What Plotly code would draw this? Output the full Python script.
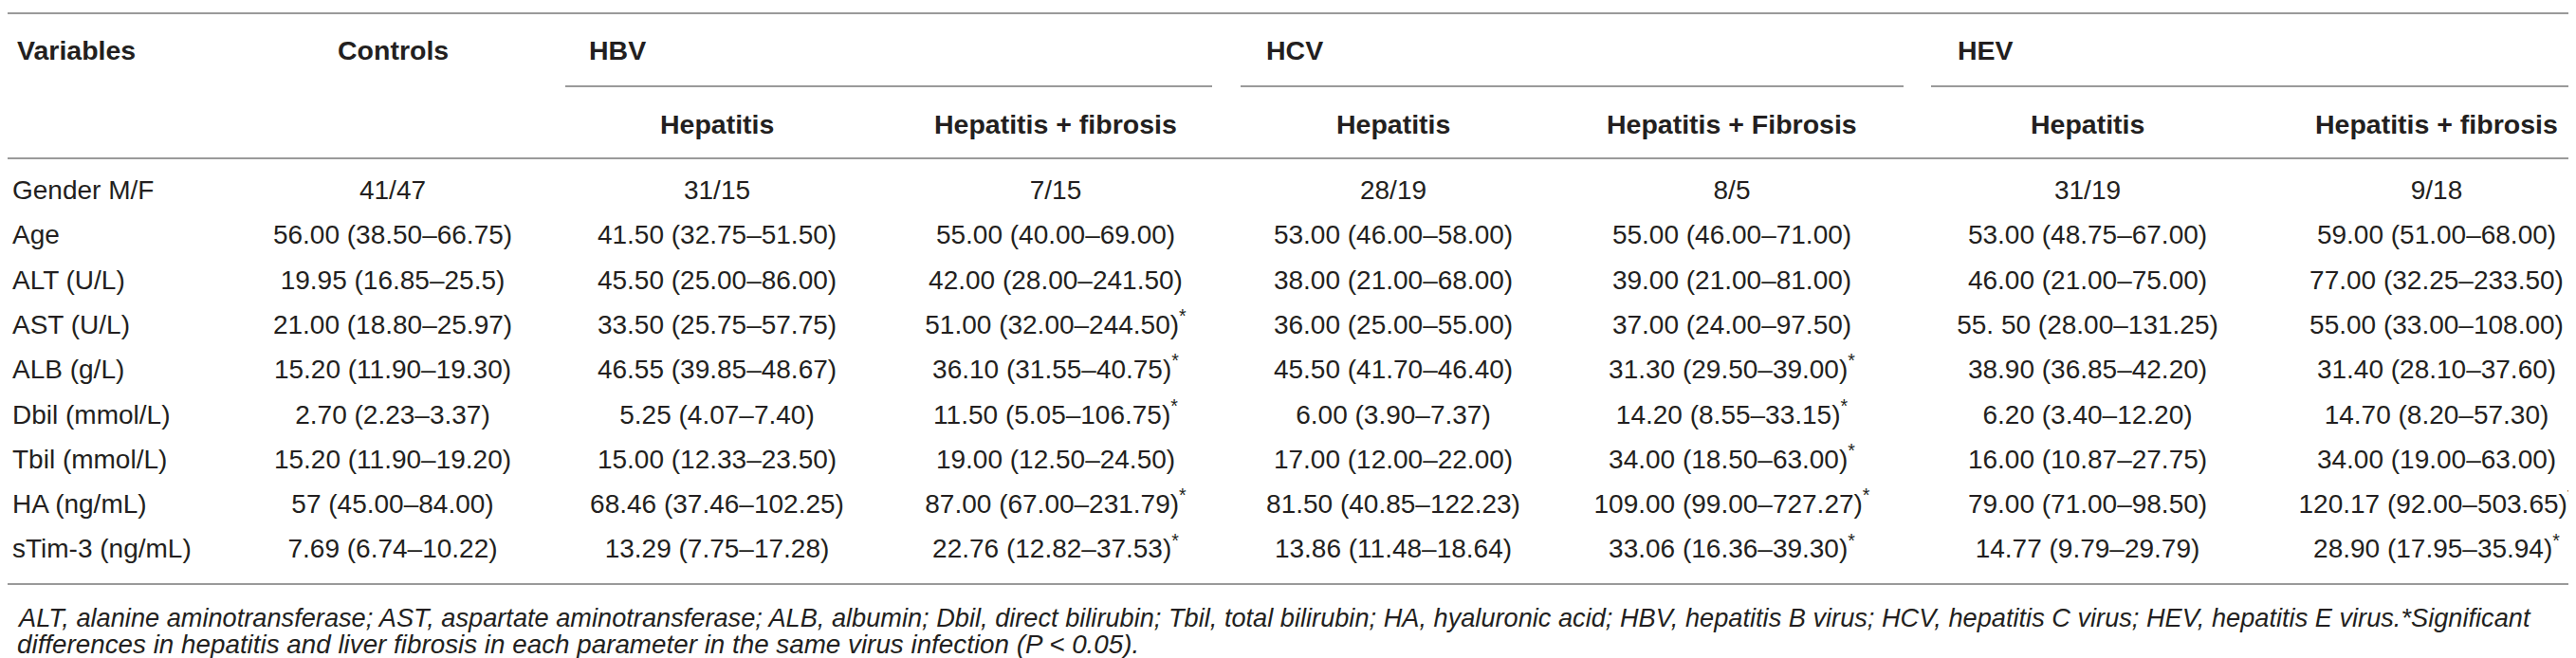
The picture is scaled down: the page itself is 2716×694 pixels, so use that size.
import plotly.graph_objects as go

# table content
variables = ["Gender M/F", "Age", "ALT (U/L)", "AST (U/L)", "ALB (g/L)", "Dbil (mmol/L)",
             "Tbil (mmol/L)", "HA (ng/mL)", "sTim-3 (ng/mL)"]
controls = ["41/47", "56.00 (38.50–66.75)", "19.95 (16.85–25.5)", "21.00 (18.80–25.97)",
            "15.20 (11.90–19.30)", "2.70 (2.23–3.37)", "15.20 (11.90–19.20)",
            "57 (45.00–84.00)", "7.69 (6.74–10.22)"]
hbv_hep = ["31/15", "41.50 (32.75–51.50)", "45.50 (25.00–86.00)", "33.50 (25.75–57.75)",
           "46.55 (39.85–48.67)", "5.25 (4.07–7.40)", "15.00 (12.33–23.50)",
           "68.46 (37.46–102.25)", "13.29 (7.75–17.28)"]
hbv_fib = ["7/15", "55.00 (40.00–69.00)", "42.00 (28.00–241.50)", "51.00 (32.00–244.50)*",
           "36.10 (31.55–40.75)*", "11.50 (5.05–106.75)*", "19.00 (12.50–24.50)",
           "87.00 (67.00–231.79)*", "22.76 (12.82–37.53)*"]
hcv_hep = ["28/19", "53.00 (46.00–58.00)", "38.00 (21.00–68.00)", "36.00 (25.00–55.00)",
           "45.50 (41.70–46.40)", "6.00 (3.90–7.37)", "17.00 (12.00–22.00)",
           "81.50 (40.85–122.23)", "13.86 (11.48–18.64)"]
hcv_fib = ["8/5", "55.00 (46.00–71.00)", "39.00 (21.00–81.00)", "37.00 (24.00–97.50)",
           "31.30 (29.50–39.00)*", "14.20 (8.55–33.15)*", "34.00 (18.50–63.00)*",
           "109.00 (99.00–727.27)*", "33.06 (16.36–39.30)*"]
hev_hep = ["31/19", "53.00 (48.75–67.00)", "46.00 (21.00–75.00)", "55. 50 (28.00–131.25)",
           "38.90 (36.85–42.20)", "6.20 (3.40–12.20)", "16.00 (10.87–27.75)",
           "79.00 (71.00–98.50)", "14.77 (9.79–29.79)"]
hev_fib = ["9/18", "59.00 (51.00–68.00)", "77.00 (32.25–233.50)", "55.00 (33.00–108.00)",
           "31.40 (28.10–37.60)", "14.70 (8.20–57.30)", "34.00 (19.00–63.00)",
           "120.17 (92.00–503.65)*", "28.90 (17.95–35.94)*"]

groups = ["HBV", "HCV", "HEV"]
subheads = ["Hepatitis", "Hepatitis + fibrosis", "Hepatitis", "Hepatitis + Fibrosis",
            "Hepatitis", "Hepatitis + fibrosis"]
footnote = ["ALT, alanine aminotransferase; AST, aspartate aminotransferase; ALB, albumin; "
            "Dbil, direct bilirubin; Tbil, total bilirubin; HA, hyaluronic acid; HBV, hepatitis B virus; "
            "HCV, hepatitis C virus; HEV, hepatitis E virus.*Significant",
            "differences in hepatitis and liver fibrosis in each parameter in the same virus infection "
            "(P < 0.05)."]

# layout (pixel positions)
W, H = 2716, 694
col_x = [406, 748, 1105, 1461, 1818, 2193, 2561]
group_x = [611, 1325, 2054]
group_line = [(588, 1270), (1300, 1999), (2028, 2709)]
row_y0, row_dy = 195, 47.3
head_y, sub_y = 45, 123
lines_y = [6, 159, 608]
line_end = 2709
foot_y = [643, 671]
left_x = 8

TXT = "#231f20"
LINE = "#9a9a9a"
FONT = "Liberation Sans, Arial, sans-serif"
FS = 28
FS_HEAD = 28.5
FS_FOOT = [27.2, 27.8]


def fmt(s):
    if s.endswith("*"):
        return s[:-1] + "<sup>*</sup>"
    return s


row_y = [row_y0 + i * row_dy for i in range(len(variables))]

fig = go.Figure()

# variable names
fig.add_trace(go.Scatter(
    x=[left_x - 3] * len(variables), y=row_y, text=variables, mode="text",
    textposition="middle right", textfont=dict(family=FONT, size=FS, color=TXT),
    hoverinfo="skip", showlegend=False))

# data columns
columns = [controls, hbv_hep, hbv_fib, hcv_hep, hcv_fib, hev_hep, hev_fib]
for cx, col in zip(col_x, columns):
    fig.add_trace(go.Scatter(
        x=[cx] * len(col), y=row_y, text=[fmt(v) for v in col], mode="text",
        textposition="middle center", textfont=dict(family=FONT, size=FS, color=TXT),
        hoverinfo="skip", showlegend=False))

# headers
bold = dict(family=FONT, size=FS_HEAD, color=TXT)
fig.add_annotation(x=left_x, y=head_y, text="<b>Variables</b>", showarrow=False,
                   xanchor="left", yanchor="middle", font=bold)
fig.add_annotation(x=col_x[0], y=head_y, text="<b>Controls</b>", showarrow=False,
                   xanchor="center", yanchor="middle", font=bold)
for gx, g in zip(group_x, groups):
    fig.add_annotation(x=gx, y=head_y, text=f"<b>{g}</b>", showarrow=False,
                       xanchor="left", yanchor="middle", font=bold)
for cx, s in zip(col_x[1:], subheads):
    fig.add_annotation(x=cx, y=sub_y, text=f"<b>{s}</b>", showarrow=False,
                       xanchor="center", yanchor="middle", font=bold)

# footnote
for fy, fs, s in zip(foot_y, FS_FOOT, footnote):
    fig.add_annotation(x=left_x, y=fy, text=f"<i>{s.replace('<', '&lt;')}</i>", showarrow=False,
                       xanchor="left", yanchor="middle",
                       font=dict(family=FONT, size=fs, color=TXT))

# rules
for ly in lines_y:
    fig.add_shape(type="line", x0=0, x1=line_end, y0=ly, y1=ly, line=dict(color=LINE, width=2))
for x0, x1 in group_line:
    fig.add_shape(type="line", x0=x0, x1=x1, y0=83, y1=83, line=dict(color=LINE, width=2))

fig.update_layout(
    width=W, height=H,
    margin=dict(l=0, r=0, t=0, b=0),
    paper_bgcolor="white", plot_bgcolor="white",
    xaxis=dict(range=[0, W], visible=False, fixedrange=True),
    yaxis=dict(range=[H, 0], visible=False, fixedrange=True),
)

fig.write_html("out.html")
